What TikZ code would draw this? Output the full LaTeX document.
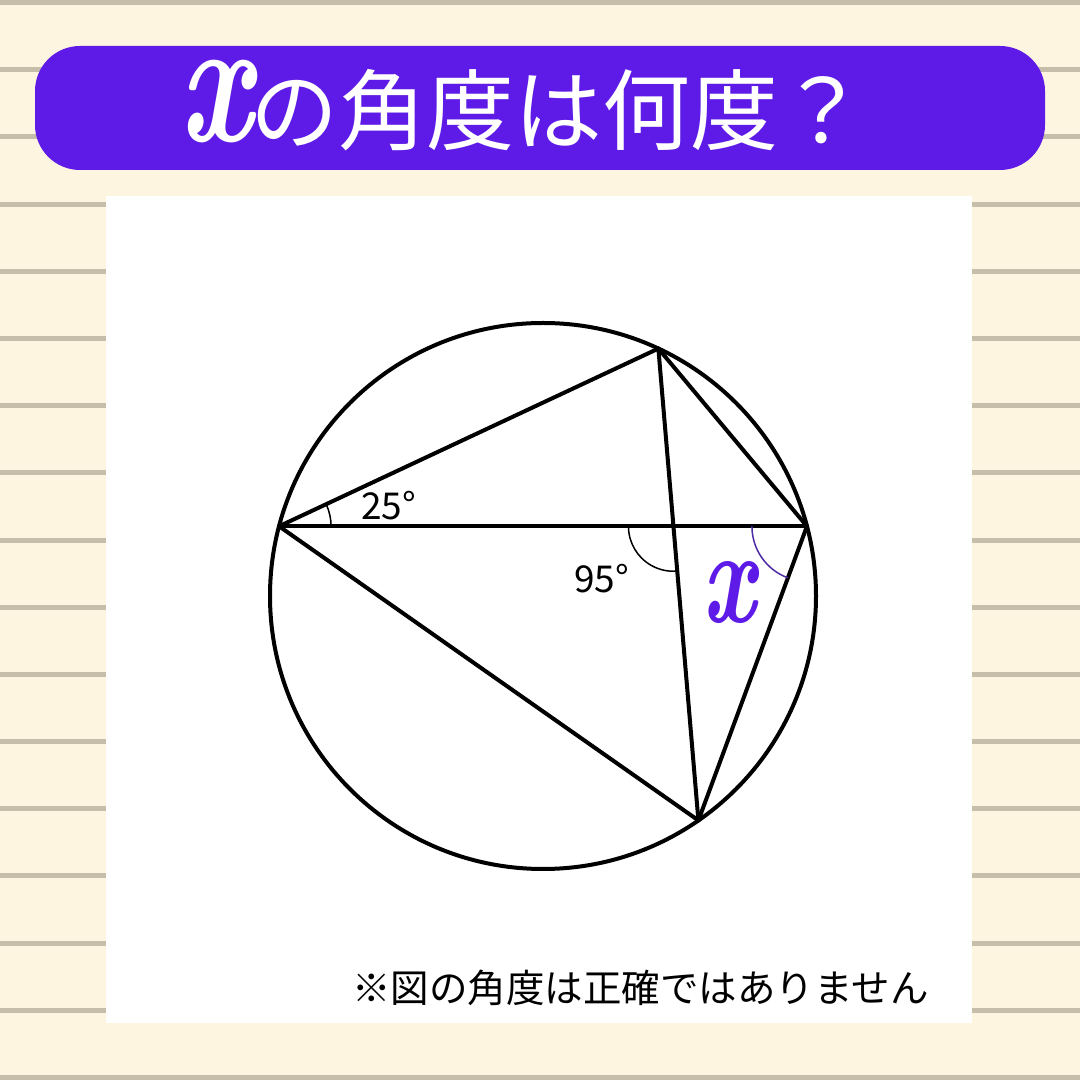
\documentclass[tikz,border=0pt]{standalone}
\usepackage{fontspec}
\newfontfamily\jp{Noto Sans CJK JP}
\usetikzlibrary{calc}
\definecolor{bg}{HTML}{FEF5E0}
\definecolor{rulecol}{HTML}{C6BDAB}
\definecolor{banner}{HTML}{5E1BE7}
\definecolor{xpurple}{HTML}{5E1BE7}
\definecolor{arcpurple}{HTML}{4E2CA6}
\tikzset{
  geo/.style={line width=4pt, line join=round, line cap=round},
  anglearc/.style={line width=1.5pt},
  lbl/.style={inner sep=0pt, font=\jp\fontsize{37}{37}\selectfont},
}
\begin{document}
\begin{tikzpicture}[x=1pt,y=1pt]
\useasboundingbox (0,0) rectangle (1080,1080);
\fill[bg] (0,0) rectangle (1080,1080);
\foreach \k in {0,...,16} {
  \draw[rulecol, line width=5pt] (0,{1077.5-67.19*\k}) -- (1080,{1077.5-67.19*\k});
}
% banner
\fill[banner, rounded corners=45pt] (35,910) rectangle (1045,1034);
\node[inner sep=3pt, text=white] (tx) at (212,978)
  {\scalebox{0.72}[1]{\fontsize{180}{180}\selectfont\bfseries\itshape\hspace{0.1em}x\/}};
\node[inner sep=0pt, anchor=west, text=white, font=\jp\fontsize{88}{88}\selectfont] (title) at (250,970) {の角度は何度？};
% panel
\fill[white] (106,57) rectangle (971.5,884);
% geometry
\coordinate (O) at (543,484);
\coordinate (A) at ($(O)+(165.2:273pt)$);
\coordinate (C) at ($(O)+(14.8:273pt)$);
\coordinate (B) at ($(O)+(65:273pt)$);
\coordinate (D) at ($(O)+(-55.3:273pt)$);
\coordinate (E) at (intersection of A--C and B--D);
\draw[geo] (O) circle[radius=273pt];
\draw[geo] (A) -- (C);
\draw[geo] (A) -- (B);
\draw[geo] (A) -- (D);
\draw[geo] (B) -- (D);
\draw[geo] (B) -- (C);
\draw[geo] (C) -- (D);
% angle arcs
\draw[anglearc] ($(A)+(0:52pt)$) arc[start angle=0, end angle=25.1, radius=52pt];
\draw[anglearc] ($(E)+(180:45pt)$) arc[start angle=180, end angle=274.8, radius=45pt];
\draw[anglearc, arcpurple] ($(C)+(180:55pt)$) arc[start angle=180, end angle=249.75, radius=55pt];
% labels
\node[lbl] (l25) at (388.5,574.5) {25°};
\node[lbl] (l95) at (601.5,501.5) {95°};
\node[inner sep=3pt, text=xpurple] (xl) at (726.5,487)
  {\scalebox{0.7}[1]{\fontsize{135}{135}\selectfont\bfseries\itshape\hspace{0.1em}x\/}};
\node[inner sep=0pt, anchor=west, font=\jp\fontsize{38.5}{38.5}\selectfont] (note) at (352,92.5) {※図の角度は正確ではありません};
\end{tikzpicture}
\end{document}
